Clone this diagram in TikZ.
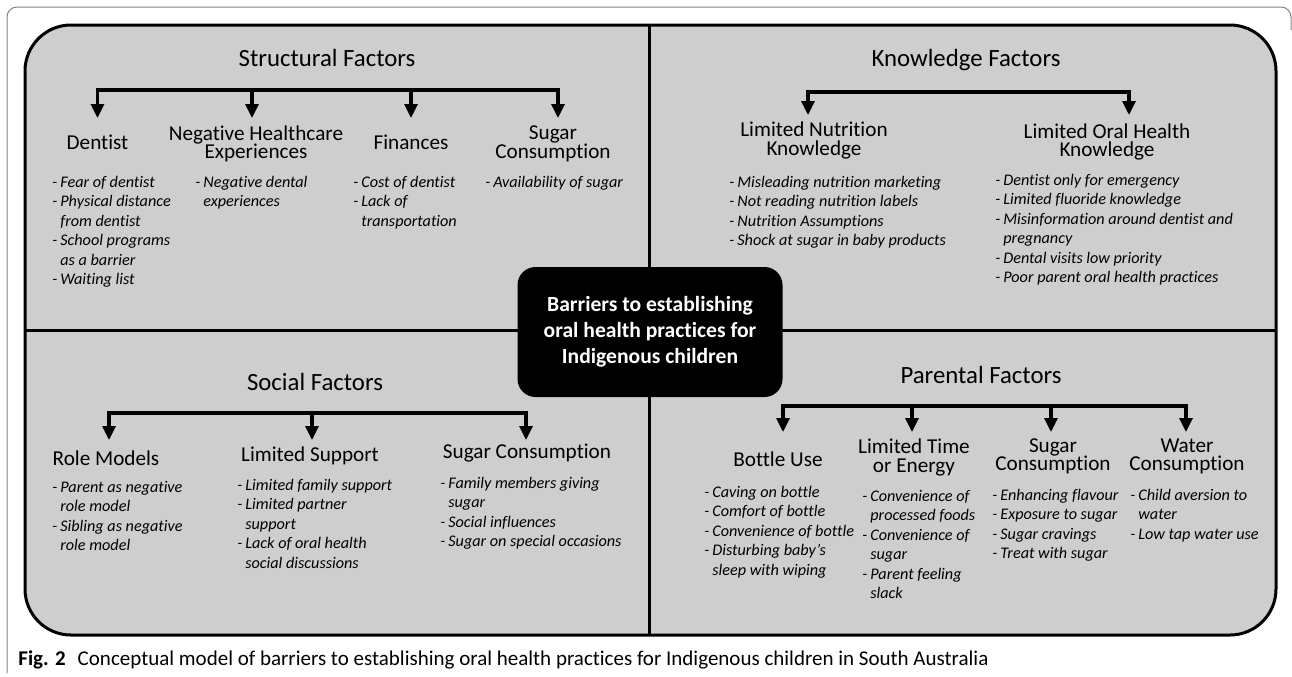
\documentclass[tikz,border=0pt]{standalone}
\usepackage{fontspec}
\setmainfont{Carlito}[RawFeature={-liga;-clig;-calt;-dlig}]
\usetikzlibrary{arrows.meta}

\definecolor{panelgray}{RGB}{206,206,206}
\definecolor{framegray}{RGB}{130,130,130}

\tikzset{
	factor/.style = {inner sep=0pt, font=\fontsize{12.4}{14}\selectfont},
	sub/.style = {align=center, inner sep=0pt, font=\fontsize{10.6}{9.2}\selectfont},
	items/.style = {anchor=north west, inner sep=0pt, font=\fontsize{8.1}{9.75}\selectfont\itshape},
	bracket/.style = {line width=1.6pt, {Triangle[width=6.5pt,length=7pt]}-{Triangle[width=6.5pt,length=7pt]}},
	arr/.style = {line width=1.6pt, -{Triangle[width=6.5pt,length=7pt]}},
	panel/.style = {line width=1.5pt}
}

\begin{document}
\begin{tikzpicture}[x=0.5pt, y=-0.5pt]
		\useasboundingbox (0,0) rectangle (1292,676);
		\draw[framegray, line width=0.5pt, rounded corners=5pt] (7,673) -- (7,7) -- (1291,7) -- (1291,30);
		\draw[panel, fill=panelgray, rounded corners=23pt] (25,25) rectangle (1276,635);
		\draw[panel] (649,25) -- (649,635);
		\draw[panel] (25,330) -- (1276,330);

		\node[fill=black, text=white, rounded corners=9pt, minimum width=132.5pt, minimum height=65pt, align=center, font=\fontsize{10.8}{13}\selectfont\bfseries] (core) at (650,332) {Barriers to establishing\\oral health practices for\\Indigenous children};

		\node[factor] (structural) at (327,58) {Structural Factors};
		\node[factor] (knowledge) at (966,60) {Knowledge Factors};
		\node[factor] (social) at (315,382) {Social Factors};
		\node[factor] (parental) at (981,375) {Parental Factors};

		\coordinate (s1) at (97.5,90);
		\coordinate (s2) at (252,90);
		\coordinate (s3) at (411,90);
		\coordinate (s4) at (558,90);
		\coordinate (stip) at (0,118);
		\draw[bracket] (s1 |- stip) -- (s1) -- (s4) -- (s4 |- stip);
		\draw[arr] (s2) -- (s2 |- stip);
		\draw[arr] (s3) -- (s3 |- stip);

		\coordinate (k1) at (808,92);
		\coordinate (k2) at (1129,92);
		\coordinate (ktip) at (0,115);
		\draw[bracket] (k1 |- ktip) -- (k1) -- (k2) -- (k2 |- ktip);

		\coordinate (c1) at (109,413);
		\coordinate (c2) at (312,413);
		\coordinate (c3) at (526,413);
		\coordinate (ctip) at (0,440);
		\draw[bracket] (c1 |- ctip) -- (c1) -- (c3) -- (c3 |- ctip);
		\draw[arr] (c2) -- (c2 |- ctip);

		\coordinate (p1) at (783,406);
		\coordinate (p2) at (912,406);
		\coordinate (p3) at (1051,406);
		\coordinate (p4) at (1186,406);
		\coordinate (ptip) at (0,432);
		\draw[bracket] (p1 |- ptip) -- (p1) -- (p4) -- (p4 |- ptip);
		\draw[arr] (p2) -- (p2 |- ptip);
		\draw[arr] (p3) -- (p3 |- ptip);

		\node[sub] (dentist) at (97.5,142) {Dentist};
		\node[sub] (neghealth) at (256,144) {Negative Healthcare\\Experiences};
		\node[sub] (finances) at (411,142) {Finances};
		\node[sub] (sugarS) at (553,144) {Sugar\\Consumption};
		\node[sub] (nutrition) at (814,140.5) {Limited Nutrition\\Knowledge};
		\node[sub] (oral) at (1107,142) {Limited Oral Health\\Knowledge};
		\node[sub] (role) at (106,458) {Role Models};
		\node[sub] (support) at (310,456) {Limited Support};
		\node[sub] (sugarC) at (527,453) {Sugar Consumption};
		\node[sub] (bottle) at (778,459) {Bottle Use};
		\node[sub, font=\fontsize{10.6}{9.5}\selectfont] (time) at (914,457.5) {Limited Time\\or Energy};
		\node[sub] (sugarP) at (1053,456.5) {Sugar\\Consumption};
		\node[sub] (water) at (1187,456.5) {Water\\Consumption};

		\node[items] (dentistList) at (52,173.3) {\begin{tabular}{@{}l@{\hspace{1.5pt}}l@{}}
			- & Fear of dentist\\
			- & Physical distance\\
			  & from dentist\\
			- & School programs\\
			  & as a barrier\\
			- & Waiting list
		\end{tabular}};
		\node[items] (neghealthList) at (195,173.3) {\begin{tabular}{@{}l@{\hspace{1.5pt}}l@{}}
			- & Negative dental\\
			  & experiences
		\end{tabular}};
		\node[items] (financesList) at (353,173.3) {\begin{tabular}{@{}l@{\hspace{1.5pt}}l@{}}
			- & Cost of dentist\\
			- & Lack of\\
			  & transportation
		\end{tabular}};
		\node[items] (sugarSList) at (485,173.3) {\begin{tabular}{@{}l@{\hspace{1.5pt}}l@{}}
			- & Availability of sugar
		\end{tabular}};
		\node[items] (nutritionList) at (729,173.3) {\begin{tabular}{@{}l@{\hspace{1.5pt}}l@{}}
			- & Misleading nutrition marketing\\
			- & Not reading nutrition labels\\
			- & Nutrition Assumptions\\
			- & Shock at sugar in baby products
		\end{tabular}};
		\node[items] (oralList) at (995,171.3) {\begin{tabular}{@{}l@{\hspace{1.5pt}}l@{}}
			- & Dentist only for emergency\\
			- & Limited fluoride knowledge\\
			- & Misinformation around dentist and\\
			  & pregnancy\\
			- & Dental visits low priority\\
			- & Poor parent oral health practices
		\end{tabular}};
		\node[items] (roleList) at (52,478.3) {\begin{tabular}{@{}l@{\hspace{1.5pt}}l@{}}
			- & Parent as negative\\
			  & role model\\
			- & Sibling as negative\\
			  & role model
		\end{tabular}};
		\node[items] (supportList) at (237,476.3) {\begin{tabular}{@{}l@{\hspace{1.5pt}}l@{}}
			- & Limited family support\\
			- & Limited partner\\
			  & support\\
			- & Lack of oral health\\
			  & social discussions
		\end{tabular}};
		\node[items] (sugarCList) at (440,474.3) {\begin{tabular}{@{}l@{\hspace{1.5pt}}l@{}}
			- & Family members giving\\
			  & sugar\\
			- & Social influences\\
			- & Sugar on special occasions
		\end{tabular}};
		\node[items] (bottleList) at (704,483.3) {\begin{tabular}{@{}l@{\hspace{1.5pt}}l@{}}
			- & Caving on bottle\\
			- & Comfort of bottle\\
			- & Convenience of bottle\\
			- & Disturbing baby’s\\
			  & sleep with wiping
		\end{tabular}};
		\node[items] (timeList) at (862,487.3) {\begin{tabular}{@{}l@{\hspace{1.5pt}}l@{}}
			- & Convenience of\\
			  & processed foods\\
			- & Convenience of\\
			  & sugar\\
			- & Parent feeling\\
			  & slack
		\end{tabular}};
		\node[items] (sugarPList) at (992,486.3) {\begin{tabular}{@{}l@{\hspace{1.5pt}}l@{}}
			- & Enhancing flavour\\
			- & Exposure to sugar\\
			- & Sugar cravings\\
			- & Treat with sugar
		\end{tabular}};
		\node[items] (waterList) at (1130,486.3) {\begin{tabular}{@{}l@{\hspace{1.5pt}}l@{}}
			- & Child aversion to\\
			  & water\\
			- & Low tap water use
		\end{tabular}};

		\node[anchor=west, inner sep=0pt, font=\fontsize{10.5}{12}\selectfont] (caption) at (18,660) {\textbf{Fig. 2}\hspace{6pt}Conceptual model of barriers to establishing oral health practices for Indigenous children in South Australia};
	\end{tikzpicture}
\end{document}
